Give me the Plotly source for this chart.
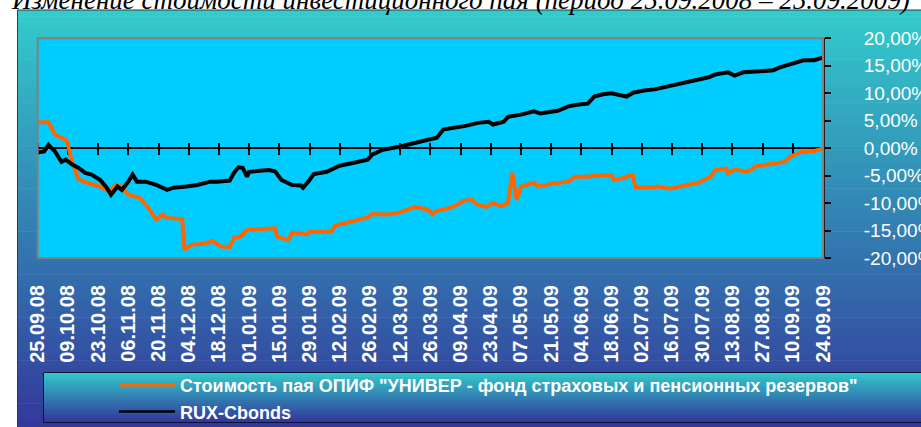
import datetime as dt
import plotly.graph_objects as go

# ---------------- data ----------------
fund_name = 'Стоимость пая ОПИФ "УНИВЕР - фонд страховых и пенсионных резервов"'
rux_name = "RUX-Cbonds"

fund_dates = [
    "2008-09-25", "2008-09-30", "2008-10-03", "2008-10-08", "2008-10-09", "2008-10-11",
    "2008-10-14", "2008-10-18", "2008-10-24", "2008-10-28", "2008-10-31", "2008-11-03",
    "2008-11-06", "2008-11-11", "2008-11-15", "2008-11-19", "2008-11-22", "2008-11-24",
    "2008-12-01", "2008-12-02", "2008-12-05", "2008-12-11", "2008-12-15", "2008-12-19",
    "2008-12-23", "2008-12-25", "2008-12-28", "2008-12-31", "2009-01-13", "2009-01-14",
    "2009-01-19", "2009-01-21", "2009-01-28", "2009-01-29", "2009-02-08", "2009-02-10",
    "2009-02-17", "2009-02-25", "2009-02-27", "2009-03-06", "2009-03-12", "2009-03-19",
    "2009-03-25", "2009-03-27", "2009-03-29", "2009-04-04", "2009-04-09", "2009-04-10",
    "2009-04-14", "2009-04-17", "2009-04-21", "2009-04-24", "2009-04-28", "2009-05-01",
    "2009-05-03", "2009-05-05", "2009-05-07", "2009-05-13", "2009-05-15", "2009-05-21",
    "2009-05-29", "2009-06-01", "2009-06-07", "2009-06-13", "2009-06-18", "2009-06-19",
    "2009-06-24", "2009-06-26", "2009-06-28", "2009-06-29", "2009-07-06", "2009-07-10",
    "2009-07-15", "2009-07-20", "2009-07-28", "2009-08-03", "2009-08-05", "2009-08-10",
    "2009-08-11", "2009-08-14", "2009-08-20", "2009-08-24", "2009-09-03", "2009-09-06",
    "2009-09-09", "2009-09-14", "2009-09-20", "2009-09-24",
]
fund_values = [
    4.7, 4.7, 2.5, 1.5, 0.6, -2.6,
    -5.7, -6.3, -7.0, -7.9, -6.7, -7.0,
    -8.5, -9.0, -10.7, -13.0, -12.1, -12.7,
    -12.9, -18.5, -17.6, -17.4, -16.9, -17.9,
    -18.0, -16.3, -16.1, -14.9, -14.6, -16.1,
    -16.7, -15.4, -15.7, -15.2, -15.2, -14.1,
    -13.4, -12.6, -12.0, -12.1, -11.7, -10.7,
    -11.2, -12.0, -11.4, -10.9, -10.0, -9.6,
    -9.4, -10.3, -10.7, -10.0, -10.6, -10.0,
    -4.5, -9.4, -7.0, -6.3, -7.0, -6.5,
    -6.1, -5.2, -5.2, -4.9, -5.0, -5.8,
    -5.4, -5.0, -5.0, -7.1, -7.1, -7.0,
    -7.4, -7.0, -6.3, -5.2, -4.0, -3.7,
    -4.6, -3.9, -4.3, -3.3, -2.8, -2.5,
    -1.5, -0.7, -0.5, -0.1,
]

rux_dates = [
    "2008-09-25", "2008-09-28", "2008-09-30", "2008-10-03", "2008-10-06", "2008-10-08",
    "2008-10-11", "2008-10-14", "2008-10-17", "2008-10-20", "2008-10-24", "2008-10-27",
    "2008-10-29", "2008-11-01", "2008-11-03", "2008-11-06", "2008-11-08", "2008-11-10",
    "2008-11-14", "2008-11-19", "2008-11-24", "2008-11-27", "2008-12-03", "2008-12-08",
    "2008-12-14", "2008-12-17", "2008-12-23", "2008-12-25", "2008-12-27", "2008-12-29",
    "2008-12-31", "2009-01-01", "2009-01-10", "2009-01-13", "2009-01-16", "2009-01-21",
    "2009-01-25", "2009-01-26", "2009-01-29", "2009-01-31", "2009-02-06", "2009-02-12",
    "2009-02-18", "2009-02-25", "2009-02-27", "2009-03-04", "2009-03-12", "2009-03-19",
    "2009-03-25", "2009-03-29", "2009-04-01", "2009-04-07", "2009-04-12", "2009-04-17",
    "2009-04-22", "2009-04-24", "2009-04-29", "2009-05-01", "2009-05-07", "2009-05-13",
    "2009-05-16", "2009-05-24", "2009-05-29", "2009-06-02", "2009-06-07", "2009-06-10",
    "2009-06-14", "2009-06-18", "2009-06-25", "2009-06-28", "2009-07-03", "2009-07-08",
    "2009-07-14", "2009-07-20", "2009-07-28", "2009-08-02", "2009-08-05", "2009-08-11",
    "2009-08-14", "2009-08-18", "2009-08-26", "2009-09-01", "2009-09-04", "2009-09-10",
    "2009-09-15", "2009-09-20", "2009-09-24",
]
rux_values = [
    -0.8, -0.6, 0.6, -0.6, -2.5, -2.1,
    -3.0, -3.6, -4.5, -4.8, -5.8, -7.2,
    -8.5, -7.0, -7.6, -6.1, -4.8, -6.1,
    -6.1, -6.7, -7.6, -7.2, -7.0, -6.7,
    -6.1, -6.1, -5.9, -4.5, -3.5, -3.6,
    -5.2, -4.3, -4.0, -4.2, -5.8, -6.7,
    -6.8, -7.2, -5.8, -4.7, -4.3, -3.2,
    -2.7, -2.1, -1.2, -0.3, 0.3, 0.9,
    1.4, 1.9, 3.4, 3.7, 4.1, 4.6,
    4.8, 4.3, 4.8, 5.7, 6.1, 6.7,
    6.3, 6.8, 7.6, 7.9, 8.1, 9.4,
    9.8, 10.0, 9.4, 10.1, 10.5, 10.7,
    11.2, 11.8, 12.5, 12.9, 13.4, 13.8,
    13.2, 13.8, 14.0, 14.2, 14.7, 15.4,
    16.0, 16.0, 16.5,
]

x_tick_labels = [
    "25.09.08", "09.10.08", "23.10.08", "06.11.08", "20.11.08", "04.12.08", "18.12.08",
    "01.01.09", "15.01.09", "29.01.09", "12.02.09", "26.02.09", "12.03.09", "26.03.09",
    "09.04.09", "23.04.09", "07.05.09", "21.05.09", "04.06.09", "18.06.09", "02.07.09",
    "16.07.09", "30.07.09", "13.08.09", "27.08.09", "10.09.09", "24.09.09",
]
y_tick_values = [-20, -15, -10, -5, 0, 5, 10, 15, 20]
y_tick_labels = ["-20,00%", "-15,00%", "-10,00%", "-5,00%", "0,00%",
                 "5,00%", "10,00%", "15,00%", "20,00%"]

title_text = "Изменение стоимости инвестиционного пая (период 25.09.2008 – 25.09.2009)"

# ---------------- layout helpers ----------------
W, H = 921, 427
x_tick_dates = [dt.datetime.strptime(s, "%d.%m.%y").strftime("%Y-%m-%d") for s in x_tick_labels]

PL, PR, PT, PB = 37.7, 823.0, 38.3, 258.0  # plot area in pixels


def px(x):
    return x / W


def py(y):
    return 1 - y / H


def hexrgb(c):
    c = c.lstrip("#")
    return tuple(int(c[i:i + 2], 16) for i in (0, 2, 4))


def bands(x0, x1, y0, y1, c0, c1, n):
    a, b = hexrgb(c0), hexrgb(c1)
    out = []
    step = (y1 - y0) / n
    for i in range(n):
        t = (i + 0.5) / n
        col = "rgb(%d,%d,%d)" % tuple(round(a[k] + (b[k] - a[k]) * t) for k in range(3))
        out.append(dict(type="rect", xref="paper", yref="paper", layer="below",
                        x0=px(x0), x1=px(x1), y0=py(y0 + i * step), y1=py(y0 + (i + 1) * step + 0.6),
                        line=dict(width=0), fillcolor=col))
    return out


shapes = []
shapes += bands(17, 930, 10, 440, "#33CCCC", "#333399", 70)
shapes.append(dict(type="rect", xref="paper", yref="paper", layer="below",
                   x0=px(17.5), x1=px(935), y0=py(10), y1=py(445),
                   line=dict(color="#3a3a3a", width=1), fillcolor="rgba(0,0,0,0)"))
shapes += bands(43, 930, 372, 423, "#33CCCC", "#333399", 20)
shapes.append(dict(type="rect", xref="paper", yref="paper", layer="below",
                   x0=px(43.5), x1=px(935), y0=py(372.5), y1=py(422.5),
                   line=dict(color="#111133", width=1), fillcolor="rgba(0,0,0,0)"))
# plot area background (below traces) and border
shapes.append(dict(type="rect", xref="paper", yref="paper", layer="below",
                   x0=px(PL), x1=px(PR), y0=py(PB), y1=py(PT),
                   line=dict(width=0), fillcolor="#00CCFF"))
shapes.append(dict(type="rect", xref="paper", yref="paper",
                   x0=px(PL), x1=px(PR), y0=py(PB), y1=py(PT),
                   line=dict(color="#808080", width=2), fillcolor="rgba(0,0,0,0)"))

fig = go.Figure()

# legend entries (thin lines, like the original legend)
fig.add_trace(go.Scatter(x=[None], y=[None], mode="lines", name=fund_name,
                         line=dict(color="#FF6600", width=2.5)))
fig.add_trace(go.Scatter(x=[None], y=[None], mode="lines", name=rux_name,
                         line=dict(color="#000000", width=2.5)))
# data
fig.add_trace(go.Scatter(x=fund_dates, y=fund_values, mode="lines", xaxis="x2",
                         line=dict(color="#FF6600", width=4), showlegend=False, name=fund_name))
fig.add_trace(go.Scatter(x=rux_dates, y=rux_values, mode="lines", xaxis="x2",
                         line=dict(color="#000000", width=4), showlegend=False, name=rux_name))

x_range = [x_tick_dates[0], x_tick_dates[-1]]
y_dom = [py(PB), py(PT)]
zero_px = H * (1 - (y_dom[0] + y_dom[1]) / 2)

fig.update_layout(
    width=W, height=H,
    margin=dict(l=0, r=0, t=0, b=0, autoexpand=False),
    paper_bgcolor="white",
    plot_bgcolor="#00CCFF",
    font=dict(family="Liberation Sans, Arial, sans-serif", color="white"),
    shapes=shapes,
    xaxis=dict(type="date", range=x_range, domain=[px(PL), px(PR)], automargin=False,
               tickvals=x_tick_dates, ticktext=x_tick_labels, tickangle=-90,
               tickfont=dict(size=20, color="white", weight="bold"),
               ticks="", ticklabelstandoff=22, showgrid=False, showline=False,
               zeroline=False, fixedrange=True),
    xaxis2=dict(type="date", range=x_range, overlaying="x", anchor="free", automargin=False,
                position=py(zero_px - 6), tickvals=x_tick_dates, ticks="outside",
                ticklen=12, tickwidth=1.5, tickcolor="black", showticklabels=False,
                showgrid=False, showline=False, zeroline=False, layer="below traces"),
    yaxis=dict(range=[-20, 20], domain=y_dom, side="right", anchor="x", automargin=False,
               tickvals=y_tick_values, ticktext=y_tick_labels,
               tickfont=dict(size=19, color="white"),
               ticks="outside", ticklen=6, tickwidth=1.5, tickcolor="black",
               ticklabelstandoff=29,
               showline=True, linecolor="#222222", linewidth=2,
               showgrid=False, zeroline=True, zerolinecolor="black", zerolinewidth=1.5),
    legend=dict(x=px(114), y=py(367), xanchor="left", yanchor="top",
                bgcolor="rgba(0,0,0,0)", borderwidth=0, itemwidth=56,
                tracegroupgap=0,
                font=dict(size=18, color="white", weight="bold",
                          family="Liberation Sans, Arial, sans-serif")),
    annotations=[dict(text="<i>" + title_text + "</i>", xref="paper", yref="paper",
                      x=px(460), y=py(0), xanchor="center", yanchor="middle",
                      showarrow=False,
                      font=dict(family="Liberation Serif, Times New Roman, serif",
                                size=27, color="black"))],
)

fig.write_html("out.html", config={"displayModeBar": False},
               post_script="document.body.style.margin='0';")
